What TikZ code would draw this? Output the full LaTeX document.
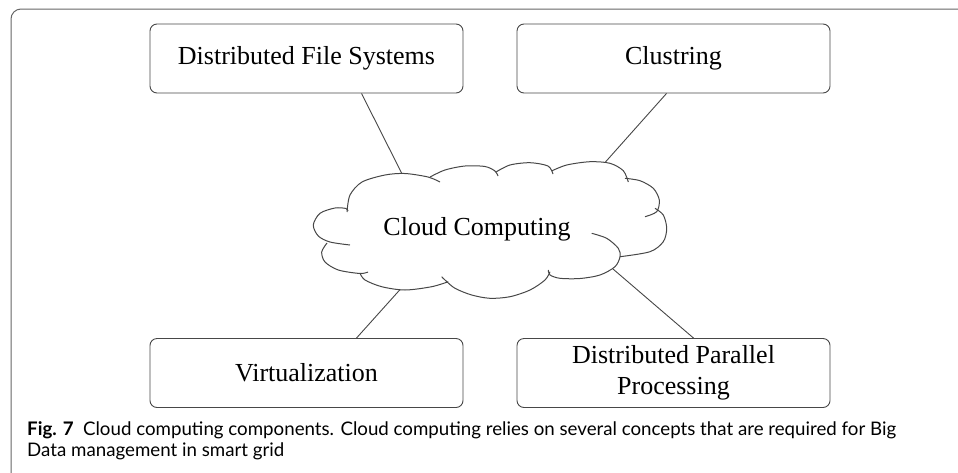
\documentclass[tikz,border=0pt]{standalone}
\usepackage{fontspec}
\setmainfont{Liberation Serif}
\newfontfamily\captionfont{Lato}
\definecolor{linegray}{HTML}{474747}
\tikzset{
  part/.style={draw=linegray, line width=0.9pt, rounded corners=7pt,
    minimum width=313pt, minimum height=69pt, inner sep=0pt,
    align=center, font=\fontsize{26}{31}\selectfont},
  link/.style={draw=linegray, line width=0.9pt},
  puff/.style={draw=linegray, line width=1pt},
  captext/.style={anchor=base west, inner sep=0pt, font=\captionfont\fontsize{18.7}{21}\selectfont},
}
\begin{document}
\begin{tikzpicture}[x=1pt,y=-1pt]
  \useasboundingbox (0,0) rectangle (958,472);
  % Frame
  \draw[gray!80!black, line width=1pt, rounded corners=10pt] (11,9) rectangle (1000,482);
  % Components
  \node[part] (dfs) at (306.5,58.5) {Distributed File Systems};
  \node[part] (clus) at (673.5,58.5) {Clustring};
  \node[part] (virt) at (306.5,373) {Virtualization};
  \node[part] (dpp) at (673.5,373) {Distributed Parallel\\Processing};
  % Cloud outline, puff by puff
  \draw[puff] plot[smooth] coordinates {(347,212) (350,195) (362,182) (385,175) (405,173.5) (428,177) (440,182)};
  \draw[puff] plot[smooth] coordinates {(430,177) (445,170) (465,166) (485,166.5) (495,171) (498,176)};
  \draw[puff] plot[smooth] coordinates {(496,172) (510,165) (530,162.7) (548,166) (553,174)};
  \draw[puff] plot[smooth] coordinates {(551.5,171) (566.7,165) (590,161.7) (610,163.3) (623.3,170.7) (628.3,182)};
  \draw[puff] plot[smooth] coordinates {(625,178.3) (640,180.7) (653.3,188.3) (659.3,200) (656.7,211.7) (645,216.7)};
  \draw[puff] plot[smooth] coordinates {(655,208.3) (663.3,215) (666.7,228.3) (663.3,241.7) (650,251.7) (620,256.7)};
  \draw[puff] plot[smooth] coordinates {(591.7,233.3) (606.7,238.3) (618.3,248.3) (620,256.7) (615,266.7) (600,275) (580,278.5) (560,278.3) (550,275) (548.3,270)};
  \draw[puff] plot[smooth] coordinates {(550,271.7) (545,280) (530,290) (510,296.7) (490,298.3) (471.7,295) (455,288.3) (445,280) (441.7,276.7)};
  \draw[puff] plot[smooth] coordinates {(448.3,281.7) (431.7,286.7) (405,290) (381.7,286.7) (365,280) (360,273.3)};
  \draw[puff] plot[smooth] coordinates {(327,243) (321.7,252) (325,262) (338.3,270) (360,273.5) (368,272)};
  \draw[puff] plot[smooth] coordinates {(348,211) (346,208.5) (335,208) (320,213.3) (313.3,225) (318.3,236) (330,242) (350,245)};
  \node[font=\fontsize{26}{31}\selectfont] (cloud) at (477,229) {Cloud Computing};
  % Where the links meet the cloud
  \coordinate (cloudnw) at (402,173.8);
  \coordinate (cloudne) at (605,162.5);
  \coordinate (cloudsw) at (400,289.6);
  \coordinate (cloudse) at (613,269);
  % Links
  \draw[link] ([xshift=55pt]dfs.south) -- (cloudnw);
  \draw[link] ([xshift=-7pt]clus.south) -- (cloudne);
  \draw[link] ([xshift=50pt]virt.north) -- (cloudsw);
  \draw[link] ([xshift=20pt]dpp.north) -- (cloudse);
  % Caption
  \node[captext] (caption) at (27,435) {\textbf{Fig. 7}\hspace{0.5em}Cloud computing components. Cloud computing relies on several concepts that are required for Big};
  \node[captext] (caption2) at (27,456) {Data management in smart grid};
\end{tikzpicture}
\end{document}
